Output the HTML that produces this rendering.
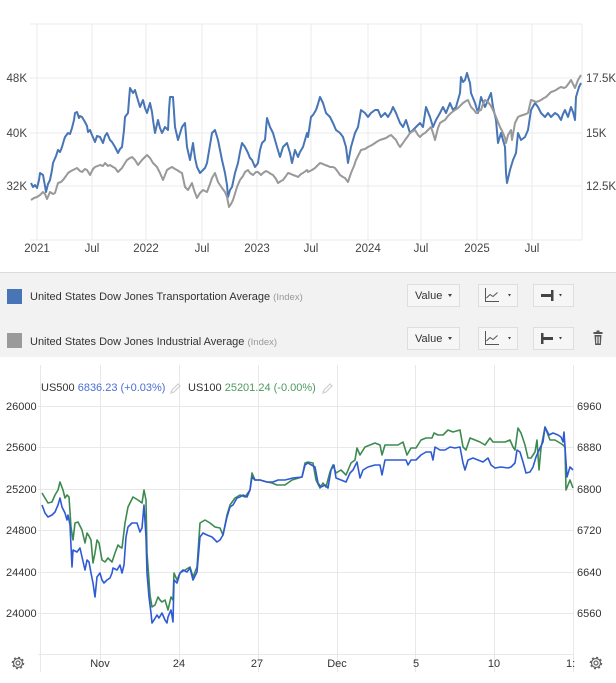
<!DOCTYPE html>
<html><head><meta charset="utf-8"><style>
html,body{margin:0;padding:0;background:#fff;}
svg{display:block;font-family:"Liberation Sans",Arial,sans-serif;}
</style></head><body>
<svg width="616" height="683" viewBox="0 0 616 683" xmlns="http://www.w3.org/2000/svg">
<rect x="0" y="0" width="616" height="683" fill="#fff"/>
<!-- TOP CHART grid -->
<g stroke="#ebebeb" stroke-width="1" fill="none">
<line x1="30" y1="24" x2="582" y2="24"/>
<line x1="30" y1="78" x2="582" y2="78"/>
<line x1="30" y1="133" x2="582" y2="133"/>
<line x1="30" y1="186" x2="582" y2="186"/>
<line x1="30" y1="240" x2="582" y2="240"/>
<line x1="37" y1="24" x2="37" y2="240"/>
<line x1="92" y1="24" x2="92" y2="240"/>
<line x1="146" y1="24" x2="146" y2="240"/>
<line x1="202" y1="24" x2="202" y2="240"/>
<line x1="257" y1="24" x2="257" y2="240"/>
<line x1="311" y1="24" x2="311" y2="240"/>
<line x1="368" y1="24" x2="368" y2="240"/>
<line x1="421" y1="24" x2="421" y2="240"/>
<line x1="477" y1="24" x2="477" y2="240"/>
<line x1="532" y1="24" x2="532" y2="240"/>
<line x1="582" y1="24" x2="582" y2="240"/>
</g>
<g font-size="11.5" fill="#444">
<text x="27" y="82" text-anchor="end">48K</text>
<text x="27" y="137" text-anchor="end">40K</text>
<text x="27" y="190" text-anchor="end">32K</text>
<text x="586" y="82">17.5K</text>
<text x="586" y="137">15K</text>
<text x="586" y="190">12.5K</text>
<g text-anchor="middle">
<text x="37" y="252">2021</text>
<text x="92" y="252">Jul</text>
<text x="146" y="252">2022</text>
<text x="202" y="252">Jul</text>
<text x="257" y="252">2023</text>
<text x="311" y="252">Jul</text>
<text x="368" y="252">2024</text>
<text x="421" y="252">Jul</text>
<text x="477" y="252">2025</text>
<text x="532" y="252">Jul</text>
</g>
</g>
<!-- top series -->
<polyline fill="none" stroke="#4775b6" stroke-width="2" stroke-linejoin="round" points="31,183 33,187 35,185 37,188 39,180 40,173 43,175 45,186 46,192 48,184 50,180 52,170 53,163 56,156 58,150 60,152 62,147 64,140 65,137 68,133 70,134 72,128 74,120 75,113 77,112 79,118 80,116 82,117 85,122 87,126 88,132 90,130 92,135 95,142 97,136 100,137 103,143 105,136 107,133 110,140 112,142 115,147 118,153 120,149 122,147 124,130 125,117 128,113 129,100 130,88 133,93 135,90 137,97 140,107 143,100 145,108 147,113 150,103 152,112 153,120 155,133 158,120 160,128 162,133 165,127 168,130 169,110 170,97 173,97 174,112 175,127 178,140 182,127 185,123 187,147 190,160 193,143 195,158 197,167 200,173 203,170 205,168 207,163 210,145 212,133 215,130 218,140 220,150 222,160 225,173 227,185 228,197 230,190 232,187 235,173 238,163 240,152 242,143 245,147 248,153 250,158 252,160 255,167 258,163 260,150 262,143 265,140 267,118 270,127 273,133 275,140 277,147 280,157 283,147 287,143 290,153 292,163 295,150 298,157 300,152 303,147 305,140 307,133 308,137 311,117 313,115 316,110 318,104 320,97 323,103 326,113 330,117 333,123 336,130 340,133 343,137 346,147 348,163 351,147 353,140 355,133 358,127 361,110 365,113 368,117 371,113 375,110 378,110 381,117 385,113 388,117 391,112 393,107 396,113 400,123 403,127 406,120 410,133 413,130 416,127 420,123 423,127 426,107 430,117 433,127 436,120 440,113 443,107 446,113 450,103 453,110 456,107 458,100 460,93 461,77 463,82 465,80 467,73 469,80 470,83 471,93 475,103 478,113 481,97 485,107 488,100 491,93 493,107 496,120 498,143 501,133 503,140 505,147 506,173 507,183 510,170 513,160 516,153 518,133 521,140 525,137 528,130 531,110 535,103 538,107 541,113 545,117 548,113 551,117 555,113 558,115 561,120 563,114 565,110 568,117 571,107 573,112 575,120 576,97 579,87 581,83"/>
<polyline fill="none" stroke="#999" stroke-width="2" stroke-linejoin="round" points="31,200 34,198 37,197 40,195 43,192 45,194 47,199 50,192 53,194 55,193 58,183 61,182 63,180 66,176 68,173 71,171 73,170 77,168 80,171 82,172 85,169 87,170 90,175 93,169 95,167 100,165 103,166 105,163 108,166 110,165 113,167 115,168 118,172 122,168 125,163 127,160 130,158 132,157 135,160 138,165 142,160 145,157 147,155 150,158 153,163 157,167 160,173 163,180 165,175 167,170 170,168 172,167 175,169 177,170 180,172 182,173 185,187 188,190 192,183 194,190 197,198 200,193 203,190 207,192 210,184 212,178 215,173 218,182 222,188 225,192 227,197 229,207 231,204 233,200 237,187 240,180 243,176 245,172 248,170 250,173 253,175 256,172 258,172 261,175 263,173 266,171 268,172 271,174 273,175 276,179 278,183 281,181 283,180 286,176 288,173 291,174 293,175 296,176 298,177 301,174 303,173 307,170 308,172 312,170 315,168 318,165 320,163 323,164 325,165 328,166 330,167 333,167 335,168 338,172 340,175 343,177 345,178 348,182 351,173 354,166 356,160 359,154 361,150 365,149 368,147 372,145 375,143 378,141 380,140 383,139 386,138 389,136 391,135 394,138 396,140 398,144 400,147 403,143 405,140 408,136 410,133 413,131 415,130 418,135 420,137 423,134 425,133 428,130 431,127 433,133 435,140 438,128 440,123 443,121 445,120 448,116 451,113 455,110 458,108 461,105 463,103 466,101 468,100 471,107 474,110 476,113 479,111 481,110 483,104 485,100 488,102 491,106 493,110 496,117 498,122 500,127 503,133 505,138 506,143 508,135 511,130 512,140 515,123 518,117 520,116 523,115 526,114 528,113 531,100 534,101 536,102 539,101 541,100 544,98 546,97 549,94 551,92 554,91 556,90 559,88 561,87 564,88 566,87 569,83 571,80 573,84 575,88 578,80 581,75"/>

<!-- LEGEND PANEL -->
<rect x="0" y="272" width="616" height="85" fill="#f2f2f2"/>
<line x1="0" y1="272.5" x2="616" y2="272.5" stroke="#dcdcdc"/>
<rect x="7" y="289" width="15" height="15" fill="#4775b6"/>
<rect x="7" y="333" width="15" height="15" fill="#9a9a9a"/>
<text x="30" y="300" font-size="11" fill="#333">United States Dow Jones Transportation Average <tspan font-size="9.5" fill="#999">(Index)</tspan></text>
<text x="30" y="345" font-size="11" fill="#333">United States Dow Jones Industrial Average <tspan font-size="9.5" fill="#999">(Index)</tspan></text>
<g fill="#f6f6f6" stroke="#dedede">
<rect x="407.5" y="284.5" width="52" height="22"/>
<rect x="478.5" y="284.5" width="39" height="22"/>
<rect x="533.5" y="284.5" width="40" height="22"/>
<rect x="407.5" y="327.5" width="52" height="22"/>
<rect x="478.5" y="327.5" width="39" height="22"/>
<rect x="533.5" y="327.5" width="40" height="22"/>
</g>
<g font-size="11" fill="#333">
<text x="415" y="299">Value</text>
<text x="415" y="342">Value</text>
</g>
<g fill="#444">
<path d="M448,294 l4,0 l-2,3 z"/>
<path d="M448,337 l4,0 l-2,3 z"/>
<path d="M508,294 l3,0 l-1.5,2.5 z"/>
<path d="M508,337 l3,0 l-1.5,2.5 z"/>
<path d="M559,294 l3,0 l-1.5,2.5 z"/>
<path d="M559,337 l3,0 l-1.5,2.5 z"/>
<rect x="541" y="294" width="10" height="3"/>
<rect x="551" y="290" width="2.5" height="11"/>
<rect x="541" y="333" width="2.5" height="11"/>
<rect x="543" y="337" width="10" height="3"/>
</g>
<g fill="none" stroke="#555" stroke-width="1">
<path d="M485.5,288 V301.5 H499"/>
<path d="M486.5,298 L490,294.5 L493,296.5 L497.5,292.5"/>
<path d="M485.5,331 V344.5 H499"/>
<path d="M486.5,341 L490,337.5 L493,339.5 L497.5,335.5"/>
</g>
<g fill="#555">
<rect x="593.5" y="332" width="9" height="2"/>
<rect x="596.5" y="330.5" width="3" height="2"/>
<path d="M594.5,335 h7 l-0.7,10 h-5.6 z"/>
</g>
<g stroke="#f2f2f2" stroke-width="0.8"><line x1="596.5" y1="336.5" x2="596.5" y2="343.5"/><line x1="598" y1="336.5" x2="598" y2="343.5"/><line x1="599.5" y1="336.5" x2="599.5" y2="343.5"/></g>

<!-- BOTTOM CHART grid -->
<g stroke="#e8e8e8" stroke-width="1" fill="none">
<line x1="38" y1="406.5" x2="574" y2="406.5"/>
<line x1="38" y1="447.5" x2="574" y2="447.5"/>
<line x1="38" y1="489.5" x2="574" y2="489.5"/>
<line x1="38" y1="530.5" x2="574" y2="530.5"/>
<line x1="38" y1="572.5" x2="574" y2="572.5"/>
<line x1="38" y1="613.5" x2="574" y2="613.5"/>
<line x1="38" y1="654.5" x2="574" y2="654.5"/>
<line x1="40.5" y1="365" x2="40.5" y2="672"/>
<line x1="100.5" y1="365" x2="100.5" y2="672"/>
<line x1="179.5" y1="365" x2="179.5" y2="672"/>
<line x1="258.5" y1="365" x2="258.5" y2="672"/>
<line x1="337.5" y1="365" x2="337.5" y2="672"/>
<line x1="415.5" y1="365" x2="415.5" y2="672"/>
<line x1="494.5" y1="365" x2="494.5" y2="672"/>
<line x1="573.5" y1="365" x2="573.5" y2="672"/>
</g>
<g font-size="11" fill="#333">
<text x="6" y="410">26000</text>
<text x="6" y="451">25600</text>
<text x="6" y="493">25200</text>
<text x="6" y="534">24800</text>
<text x="6" y="576">24400</text>
<text x="6" y="617">24000</text>
<text x="577" y="410">6960</text>
<text x="577" y="451">6880</text>
<text x="577" y="493">6800</text>
<text x="577" y="534">6720</text>
<text x="577" y="576">6640</text>
<text x="577" y="617">6560</text>
<g text-anchor="middle">
<text x="100" y="667">Nov</text>
<text x="179" y="667">24</text>
<text x="257" y="667">27</text>
<text x="337" y="667">Dec</text>
<text x="416" y="667">5</text>
<text x="494" y="667">10</text>
</g>
<text x="566" y="667">1:</text>
<text x="41" y="391">US500 <tspan fill="#4a6fd6">6836.23 (+0.03%)</tspan></text>
<text x="188" y="391">US100 <tspan fill="#4e9a5e">25201.24 (-0.00%)</tspan></text>
</g>
<g stroke="#d0d0d0" stroke-width="1.2" fill="none">
<path d="M172,390 l6,-6 l2,2 l-6,6 l-3,1 z"/>
<path d="M324,390 l6,-6 l2,2 l-6,6 l-3,1 z"/>
</g>
<!-- gears -->
<g stroke="#666" fill="none">
<circle cx="18" cy="663" r="2" stroke-width="1.2"/>
<circle cx="18" cy="663" r="4.5" stroke-width="1.2"/>
<circle cx="18" cy="663" r="5.5" stroke-width="1.6" stroke-dasharray="2 2.3"/>
<circle cx="596" cy="663" r="2" stroke-width="1.2"/>
<circle cx="596" cy="663" r="4.5" stroke-width="1.2"/>
<circle cx="596" cy="663" r="5.5" stroke-width="1.6" stroke-dasharray="2 2.3"/>
</g>
<!-- bottom series -->
<polyline fill="none" stroke="#3d8a50" stroke-width="1.6" stroke-linejoin="round" points="42,493 45,498 48,503 52,502 55,495 58,490 60,482 63,490 65,498 67,495 69,497 71,527 73,540 75,523 78,522 80,526 82,530 85,543 87,533 89,536 91,540 93,563 95,553 97,540 99,543 102,560 105,562 108,558 112,562 115,553 118,545 120,547 122,548 125,523 128,507 133,497 138,500 142,503 144,490 146,500 147,553 149,580 150,595 152,607 155,605 158,597 160,600 162,602 165,600 168,610 171,597 173,600 174,573 177,580 180,573 185,570 190,567 193,577 197,567 200,523 205,520 210,523 215,527 220,528 223,535 227,515 230,505 235,498 240,495 245,497 250,490 252,473 255,480 260,480 267,482 272,483 277,485 285,485 292,480 302,477 305,463 308,462 313,463 316,480 320,488 323,483 326,487 330,472 333,465 336,473 341,470 346,475 351,463 355,460 357,448 360,455 365,447 370,445 375,443 380,445 382,455 385,445 391,445 398,445 403,442 407,455 411,448 416,448 421,440 426,438 432,438 434,433 438,435 443,435 448,430 453,432 460,430 463,447 466,450 470,438 475,440 480,442 485,445 490,438 493,442 498,442 505,442 510,440 513,447 515,450 518,428 521,433 525,445 528,458 531,458 535,452 537,440 539,470 541,448 545,427 550,440 555,440 560,443 563,445 565,447 566,490 570,480 573,488"/>
<polyline fill="none" stroke="#2f5ad6" stroke-width="1.6" stroke-linejoin="round" points="42,505 45,513 48,517 52,515 55,512 58,505 60,498 62,507 65,513 67,520 68,515 70,525 72,567 73,550 77,552 80,548 82,557 85,570 87,560 89,562 91,573 93,583 95,597 97,577 100,573 102,580 104,583 107,580 110,578 112,573 113,568 117,570 120,565 122,573 124,565 126,537 128,527 132,523 137,523 140,532 142,528 144,505 146,537 147,573 149,597 151,613 152,623 154,620 157,615 159,618 162,613 165,620 167,623 168,617 171,610 173,622 174,580 177,583 180,573 183,570 187,572 190,568 193,580 197,572 200,537 203,533 207,535 212,537 217,542 220,540 223,535 227,517 230,507 233,505 237,498 240,497 243,495 247,497 250,490 252,477 255,480 260,480 267,482 273,482 278,480 285,480 293,478 302,477 305,465 308,463 315,467 318,483 321,487 325,485 328,488 331,470 334,465 336,478 341,480 346,482 350,473 353,470 357,462 360,478 363,470 368,467 375,465 380,465 382,475 385,460 390,460 395,460 401,460 406,460 408,465 411,460 416,460 421,455 426,452 431,452 433,460 435,447 440,450 445,450 450,447 455,448 460,447 463,463 465,470 468,460 473,458 478,460 483,462 488,458 491,465 495,468 501,467 508,468 511,467 515,463 517,450 520,452 523,462 526,473 530,472 533,467 536,457 540,448 543,442 545,427 549,435 553,433 558,435 561,437 563,442 564,432 565,447 567,477 570,467 573,470"/>
</svg>
</body></html>
